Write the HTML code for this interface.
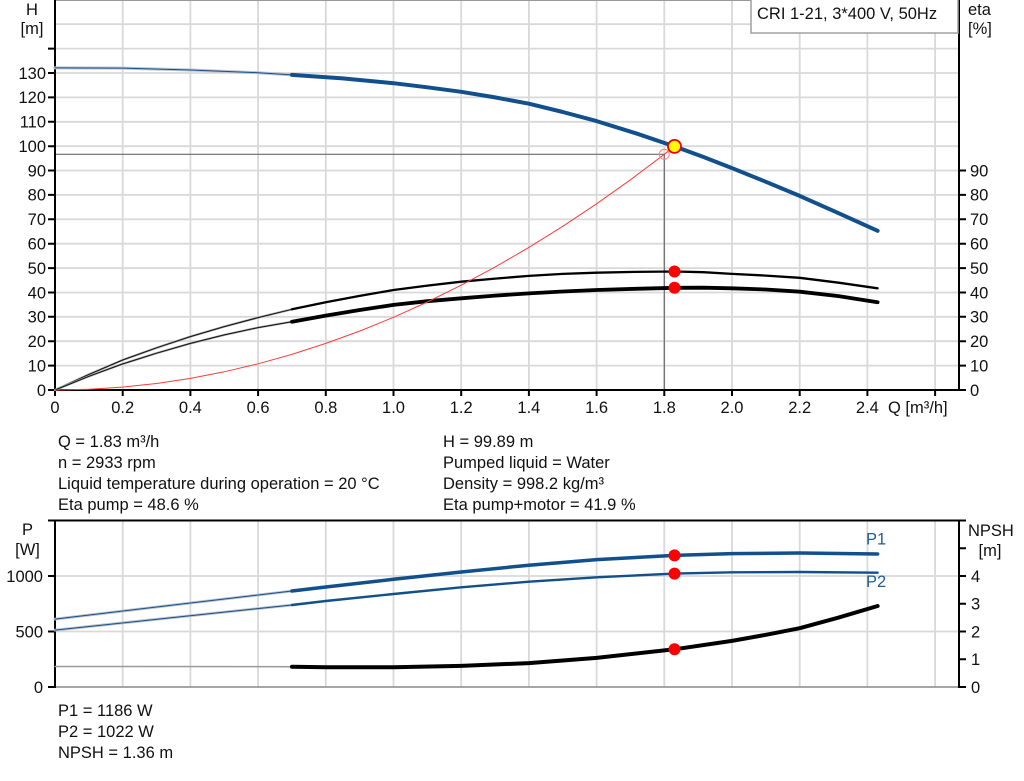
<!DOCTYPE html>
<html><head><meta charset="utf-8"><style>
html,body{margin:0;padding:0;background:#fff;}
svg{display:block;}
text{font-family:"Liberation Sans",Arial,sans-serif;font-size:16.5px;fill:#111;}
</style></head><body>
<svg width="1024" height="781" viewBox="0 0 1024 781" xmlns="http://www.w3.org/2000/svg">
<rect x="0" y="0" width="1024" height="781" fill="#fff"/>
<!-- TOP CHART GRID -->
<g stroke="#d9d9d9" stroke-width="1.8">
<path d="M122.7 0V390M190.4 0V390M258.1 0V390M325.8 0V390M393.5 0V390M461.2 0V390M528.9 0V390M596.6 0V390M664.3 0V390M732 0V390M799.7 0V390M867.4 0V390M935.1 0V390"/>
<path d="M55 365.6H959M55 341.2H959M55 316.8H959M55 292.5H959M55 268.1H959M55 243.7H959M55 219.3H959M55 194.9H959M55 170.5H959M55 146.2H959M55 121.8H959M55 97.4H959M55 73H959M55 48.6H959M55 24.2H959"/>
</g>
<line x1="55" y1="0.5" x2="959" y2="0.5" stroke="#999" stroke-width="1"/>
<!-- operating lines -->
<g stroke="#6a6a6a" stroke-width="1.2" fill="none">
<path d="M55 154.3H664.3V390"/>
</g>
<!-- axes top -->
<g stroke="#000" stroke-width="2" fill="none">
<path d="M55 0V391"/>
<path d="M959 0V391"/>
<path d="M54 390H960"/>
<path d="M48 390H55M48 365.6H55M48 341.2H55M48 316.8H55M48 292.5H55M48 268.1H55M48 243.7H55M48 219.3H55M48 194.9H55M48 170.5H55M48 146.2H55M48 121.8H55M48 97.4H55M48 73H55M48 48.6H55"/>
<path d="M959 390H966M959 365.6H966M959 341.2H966M959 316.8H966M959 292.5H966M959 268.1H966M959 243.7H966M959 219.3H966M959 194.9H966M959 170.5H966"/>
<path d="M55 390V396M122.7 390V396M190.4 390V396M258.1 390V396M325.8 390V396M393.5 390V396M461.2 390V396M528.9 390V396M596.6 390V396M664.3 390V396M732 390V396M799.7 390V396M867.4 390V396M935.1 390V396"/>
</g>
<!-- legend box -->
<rect x="751" y="-1" width="207" height="34" fill="#fff" stroke="#a0a0a0" stroke-width="1.5"/>
<text x="757" y="19">CRI 1-21, 3*400 V, 50Hz</text>
<!-- axis titles -->
<text x="32" y="15" text-anchor="middle">H</text>
<text x="32" y="34" text-anchor="middle">[m]</text>
<text x="968" y="15">eta</text>
<text x="968" y="34">[%]</text>
<!-- left labels -->
<g text-anchor="end">
<text x="46" y="395.8">0</text>
<text x="46" y="371.4">10</text>
<text x="46" y="347">20</text>
<text x="46" y="322.6">30</text>
<text x="46" y="298.3">40</text>
<text x="46" y="273.9">50</text>
<text x="46" y="249.5">60</text>
<text x="46" y="225.1">70</text>
<text x="46" y="200.7">80</text>
<text x="46" y="176.3">90</text>
<text x="46" y="152">100</text>
<text x="46" y="127.6">110</text>
<text x="46" y="103.2">120</text>
<text x="46" y="78.8">130</text>
</g>
<g>
<text x="970" y="395.8">0</text>
<text x="970" y="371.4">10</text>
<text x="970" y="347">20</text>
<text x="970" y="322.6">30</text>
<text x="970" y="298.3">40</text>
<text x="970" y="273.9">50</text>
<text x="970" y="249.5">60</text>
<text x="970" y="225.1">70</text>
<text x="970" y="200.7">80</text>
<text x="970" y="176.3">90</text>
</g>
<g text-anchor="middle">
<text x="55" y="413">0</text>
<text x="122.7" y="413">0.2</text>
<text x="190.4" y="413">0.4</text>
<text x="258.1" y="413">0.6</text>
<text x="325.8" y="413">0.8</text>
<text x="393.5" y="413">1.0</text>
<text x="461.2" y="413">1.2</text>
<text x="528.9" y="413">1.4</text>
<text x="596.6" y="413">1.6</text>
<text x="664.3" y="413">1.8</text>
<text x="732" y="413">2.0</text>
<text x="799.7" y="413">2.2</text>
<text x="867.4" y="413">2.4</text>
</g>
<text x="888" y="413">Q [m³/h]</text>
<!-- curves top -->
<g fill="none" stroke-linejoin="round" stroke-linecap="round">
<polyline points="55,67.9 122.7,68.1 190.4,70.0 258.1,72.7 292,74.9" stroke="#b9c2ce" stroke-width="3"/>
<polyline points="55,67.9 122.7,68.1 190.4,70.0 258.1,72.7 292,74.9" stroke="#1d4f85" stroke-width="1"/>
<polyline points="292,74.9 342.7,78.4 393.5,83.2 427.4,87.3 461.2,91.8 495.1,97.4 528.9,103.7 562.8,112.0 596.6,121.1 635.5,133.2 674.5,146.4 703.2,156.9 732,168.1 765.9,181.8 799.7,195.9 838.6,213.2 877.6,230.8" stroke="#11508c" stroke-width="4"/>
<polyline points="55,390 88.9,374.4 122.7,360.0 156.6,347.8 190.4,336.6 224.3,326.6 258.1,317.6 292,309.3" stroke="#aaa" stroke-width="2.2"/>
<polyline points="55,390 88.9,374.4 122.7,360.0 156.6,347.8 190.4,336.6 224.3,326.6 258.1,317.6 292,309.3" stroke="#111" stroke-width="1"/>
<polyline points="292,309.3 325.8,302.2 359.7,295.9 393.5,290.0 427.4,285.6 461.2,281.7 495.1,278.6 528.9,275.9 562.8,273.9 596.6,272.7 635.5,271.9 674.5,271.5 703.2,272.2 732,273.9 765.9,275.6 799.7,277.8 838.6,282.7 877.6,288.3" stroke="#000" stroke-width="2.3"/>
<polyline points="55,390 88.9,376.3 122.7,363.9 156.6,353.2 190.4,343.4 224.3,334.9 258.1,327.6 292,321.7" stroke="#aaa" stroke-width="2.2"/>
<polyline points="55,390 88.9,376.3 122.7,363.9 156.6,353.2 190.4,343.4 224.3,334.9 258.1,327.6 292,321.7" stroke="#111" stroke-width="1"/>
<polyline points="292,321.7 325.8,315.6 359.7,310.0 393.5,304.9 427.4,301.2 461.2,298.3 495.1,295.6 528.9,293.4 562.8,291.5 596.6,290.0 635.5,288.8 674.5,287.8 703.2,287.7 732,288.3 765.9,289.5 799.7,291.7 838.6,296.1 877.6,302.2" stroke="#000" stroke-width="3.8"/>
<polyline points="55,390 88.85,389.3 122.7,387.1 156.55,383.5 190.4,378.4 224.25,371.8 258.1,363.8 291.95,354.4 325.8,343.4 359.65,331.1 393.5,317.3 427.35,302.0 461.2,285.2 495.05,267.1 528.9,247.4 562.75,226.3 596.6,203.8 630.45,179.8 664.3,154.3 674.45,146.4" stroke="#ff3b3b" stroke-width="1"/>
</g>
<circle cx="664.3" cy="154.3" r="5" fill="none" stroke="#ff8080" stroke-width="1"/>
<circle cx="674.5" cy="146.4" r="6.5" fill="#ffff00" stroke="#e80000" stroke-width="1.8"/>
<circle cx="674.5" cy="271.5" r="6" fill="#ff0000"/>
<circle cx="674.5" cy="287.8" r="6" fill="#ff0000"/>
<!-- INFO TEXT -->
<g style="font-size:17px">
<text x="58" y="447">Q = 1.83 m³/h</text>
<text x="58" y="468">n = 2933 rpm</text>
<text x="58" y="489">Liquid temperature during operation = 20 °C</text>
<text x="58" y="510">Eta pump = 48.6 %</text>
<text x="443" y="447">H = 99.89 m</text>
<text x="443" y="468">Pumped liquid = Water</text>
<text x="443" y="489">Density = 998.2 kg/m³</text>
<text x="443" y="510">Eta pump+motor = 41.9 %</text>
<text x="58" y="716">P1 = 1186 W</text>
<text x="58" y="737">P2 = 1022 W</text>
<text x="58" y="758">NPSH = 1.36 m</text>
</g>
<!-- BOTTOM CHART -->
<g stroke="#d9d9d9" stroke-width="1.8">
<path d="M122.7 520V687M190.4 520V687M258.1 520V687M325.8 520V687M393.5 520V687M461.2 520V687M528.9 520V687M596.6 520V687M664.3 520V687M732 520V687M799.7 520V687M867.4 520V687M935.1 520V687"/>
<path d="M55 576H959M55 631.5H959"/>
</g>
<line x1="55" y1="687" x2="959" y2="687" stroke="#888" stroke-width="1.5"/>
<g stroke="#000" stroke-width="2" fill="none">
<path d="M54 520.5H960"/>
<path d="M55 520V688"/>
<path d="M959 520V688"/>
<path d="M48 687H55M48 631.5H55M48 576H55M48 520.5H55"/>
<path d="M959 687H966M959 659.25H966M959 631.5H966M959 603.75H966M959 576H966M959 548.25H966M959 520.5H966"/>
</g>
<text x="27.5" y="535" text-anchor="middle">P</text>
<text x="27.5" y="555" text-anchor="middle">[W]</text>
<text x="968" y="536">NPSH</text>
<text x="990" y="556" text-anchor="middle">[m]</text>
<g text-anchor="end">
<text x="43" y="581.8">1000</text>
<text x="43" y="637.3">500</text>
<text x="43" y="692.8">0</text>
</g>
<g>
<text x="971" y="692.8">0</text>
<text x="971" y="665.1">1</text>
<text x="971" y="637.3">2</text>
<text x="971" y="609.6">3</text>
<text x="971" y="581.8">4</text>
</g>
<text x="866" y="544.5" style="fill:#1f5d99">P1</text>
<text x="866" y="587" style="fill:#1f5d99">P2</text>
<g fill="none" stroke-linejoin="round" stroke-linecap="round">
<polyline points="55,619.1 173.5,605.0 292,591.0" stroke="#b9c2ce" stroke-width="2.8"/>
<polyline points="55,619.1 173.5,605.0 292,591.0" stroke="#1d4f85" stroke-width="1"/>
<polyline points="292,591.0 325.8,587.0 393.5,579.3 461.2,572.0 528.9,565.2 596.6,559.6 674.5,555.4 732,553.6 799.7,553.0 877.6,554.0" stroke="#11508c" stroke-width="3.5"/>
<polyline points="55,630.1 173.5,617.5 292,605.0" stroke="#b9c2ce" stroke-width="2.8"/>
<polyline points="55,630.1 173.5,617.5 292,605.0" stroke="#1d4f85" stroke-width="1"/>
<polyline points="292,605.0 325.8,601.0 393.5,594.0 461.2,587.3 528.9,581.7 596.6,577.3 674.5,573.6 732,572.3 799.7,572.0 877.6,572.7" stroke="#11508c" stroke-width="2.4"/>
<polyline points="55,666.5 292,666.7" stroke="#9a9a9a" stroke-width="1.5"/>
<polyline points="292,666.7 325.8,667.2 393.5,667.3 461.2,665.9 528.9,663.1 596.6,657.9 674.5,649.3 732,640.9 765.9,634.8 799.7,628.2 838.6,617.6 877.6,606.0" stroke="#000" stroke-width="4"/>
</g>
<circle cx="674.5" cy="555.4" r="6" fill="#ff0000"/>
<circle cx="674.5" cy="573.6" r="6" fill="#ff0000"/>
<circle cx="674.5" cy="649.3" r="6" fill="#ff0000"/>
</svg>
</body></html>
